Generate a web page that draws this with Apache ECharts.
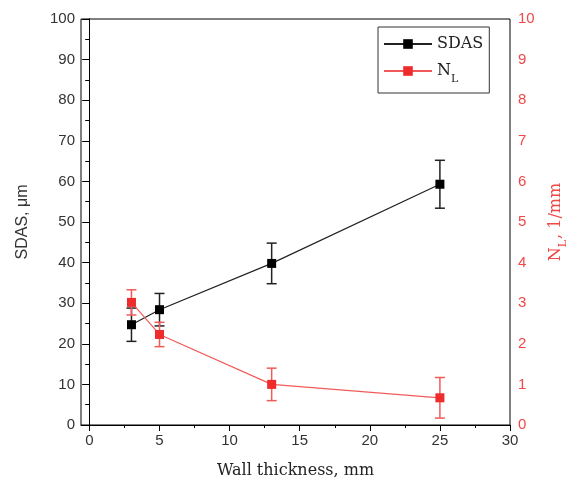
<!DOCTYPE html>
<html>
<head>
<meta charset="utf-8">
<script src="https://cdn.jsdelivr.net/npm/echarts@6/dist/echarts.min.js"></script>
<style>
html, body { margin: 0; padding: 0; background: #fff; }
#chart { width: 568px; height: 492px; }
</style>
</head>
<body>
<div id="chart"></div>
<script>
// wall thickness, mm
var thickness = [3, 5, 13, 25]
// SDAS, um (left axis) with error
var sdas = [24.7, 28.4, 39.8, 59.3]
var sdasErr = [4.1, 4.0, 5.0, 5.9]
// NL, 1/mm (right axis) with error
var nl = [3.02, 2.23, 1.0, 0.67]
var nlErr = [0.31, 0.3, 0.4, 0.5]
// tick labels
var xMajor = [0, 5, 10, 15, 20, 25, 30]
var xMinor = [2.5, 7.5, 12.5, 17.5, 22.5, 27.5]

var RED = '#ee2c2c'
var RED_LINE = '#f25a5a'
var RED_TEXT = '#f04848'

function errData(vals, errs) {
    return thickness.map(function (x, i) {
        return [x, vals[i] - errs[i], vals[i] + errs[i]]
    })
}

function errRender(color) {
    return function (params, api) {
        var top = api.coord([api.value(0), api.value(2)])
        var bot = api.coord([api.value(0), api.value(1)])
        var w = 5
        var style = { stroke: color, lineWidth: 1.5 }
        return {
            type: 'group',
            children: [
                { type: 'line', shape: { x1: top[0], y1: top[1], x2: bot[0], y2: bot[1] }, style: style },
                { type: 'line', shape: { x1: top[0] - w, y1: top[1], x2: top[0] + w, y2: top[1] }, style: style },
                { type: 'line', shape: { x1: bot[0] - w, y1: bot[1], x2: bot[0] + w, y2: bot[1] }, style: style }
            ]
        }
    }
}

var chart = echarts.init(document.getElementById('chart'))
chart.setOption({
    animation: false,
    grid: {
        left: 81,
        right: 58,
        top: 19,
        bottom: 67,
        outerBoundsMode: 'none',
        containLabel: false,
        show: true,
        borderColor: '#000',
        borderWidth: 1
    },
    legend: {
        orient: 'vertical',
        left: 378,
        top: 27,
        padding: [9, 6, 8, 5],
        itemWidth: 48,
        itemHeight: 12,
        itemGap: 11,
        borderColor: '#333',
        borderWidth: 1,
        data: ['SDAS', 'NL'],
        formatter: function (name) {
            return name === 'NL' ? '{a|N}{s|L}' : '{a|SDAS}'
        },
        textStyle: {
            rich: {
                a: { fontFamily: 'DejaVu Serif', fontSize: 16, color: '#222', lineHeight: 20 },
                s: { fontFamily: 'DejaVu Serif', fontSize: 11, color: '#222', lineHeight: 20, verticalAlign: 'bottom', padding: [0, 0, -4, 0] }
            }
        }
    },
    xAxis: [{
        type: 'value',
        min: -0.6,
        max: 30,
        name: 'Wall thickness, mm',
        nameLocation: 'middle',
        nameGap: 38,
        nameTextStyle: { fontFamily: 'DejaVu Serif', fontSize: 16, color: '#222' },
        splitLine: { show: false },
        axisLine: { lineStyle: { color: '#000' } },
        axisTick: { customValues: xMajor, length: 6, lineStyle: { color: '#000' } },
        axisLabel: { customValues: xMajor, fontFamily: 'Liberation Sans', fontSize: 15, color: '#333', margin: 8 }
    }, {
        type: 'value',
        min: -0.6,
        max: 30,
        position: 'bottom',
        splitLine: { show: false },
        axisLine: { show: false },
        axisTick: { customValues: xMinor, length: 3, lineStyle: { color: '#000' } },
        axisLabel: { show: false }
    }],
    yAxis: [{
        type: 'value',
        min: 0,
        max: 100,
        interval: 10,
        name: 'SDAS, μm',
        nameLocation: 'middle',
        nameRotate: 90,
        nameGap: 50,
        nameTextStyle: { fontFamily: 'Liberation Sans', fontSize: 16, color: '#333' },
        splitLine: { show: false },
        axisLine: { show: true, lineStyle: { color: '#000' } },
        axisTick: { length: 7, lineStyle: { color: '#000' } },
        minorTick: { show: true, splitNumber: 2, length: 4, lineStyle: { color: '#000' } },
        axisLabel: { fontFamily: 'Liberation Sans', fontSize: 15, color: '#333', margin: 6 }
    }, {
        type: 'value',
        min: 0,
        max: 10,
        interval: 1,
        position: 'right',
        name: '{a|N}{s|L}{a|, 1/mm}',
        nameLocation: 'middle',
        nameRotate: 90,
        nameGap: 36,
        nameTextStyle: {
            rich: {
                a: { fontFamily: 'DejaVu Serif', fontSize: 16, color: RED_TEXT, lineHeight: 20 },
                s: { fontFamily: 'DejaVu Serif', fontSize: 11, color: RED_TEXT, lineHeight: 20, verticalAlign: 'bottom', padding: [0, 1, -3, 0] }
            }
        },
        splitLine: { show: false },
        axisLine: { show: true, lineStyle: { color: '#000' } },
        axisTick: { inside: true, length: 7, lineStyle: { color: '#000' } },
        minorTick: { show: true, splitNumber: 2, length: 4, lineStyle: { color: '#000' } },
        axisLabel: { fontFamily: 'Liberation Sans', fontSize: 15, color: RED_TEXT, margin: 8 }
    }],
    series: [{
        name: 'SDAS',
        type: 'line',
        xAxisIndex: 0,
        yAxisIndex: 0,
        data: thickness.map(function (x, i) { return [x, sdas[i]] }),
        symbol: 'rect',
        symbolSize: 9,
        itemStyle: { color: '#000' },
        lineStyle: { color: '#222', width: 1.2 },
        z: 3
    }, {
        name: 'NL',
        type: 'line',
        xAxisIndex: 0,
        yAxisIndex: 1,
        data: thickness.map(function (x, i) { return [x, nl[i]] }),
        symbol: 'rect',
        symbolSize: 9,
        itemStyle: { color: RED },
        lineStyle: { color: RED_LINE, width: 1.2 },
        z: 3
    }, {
        type: 'custom',
        xAxisIndex: 0,
        yAxisIndex: 0,
        data: errData(sdas, sdasErr),
        encode: { x: 0, y: [1, 2] },
        renderItem: errRender('#222'),
        silent: true,
        z: 2
    }, {
        type: 'custom',
        xAxisIndex: 0,
        yAxisIndex: 1,
        data: errData(nl, nlErr),
        encode: { x: 0, y: [1, 2] },
        renderItem: errRender(RED_LINE),
        silent: true,
        z: 2
    }]
})
</script>
</body>
</html>
